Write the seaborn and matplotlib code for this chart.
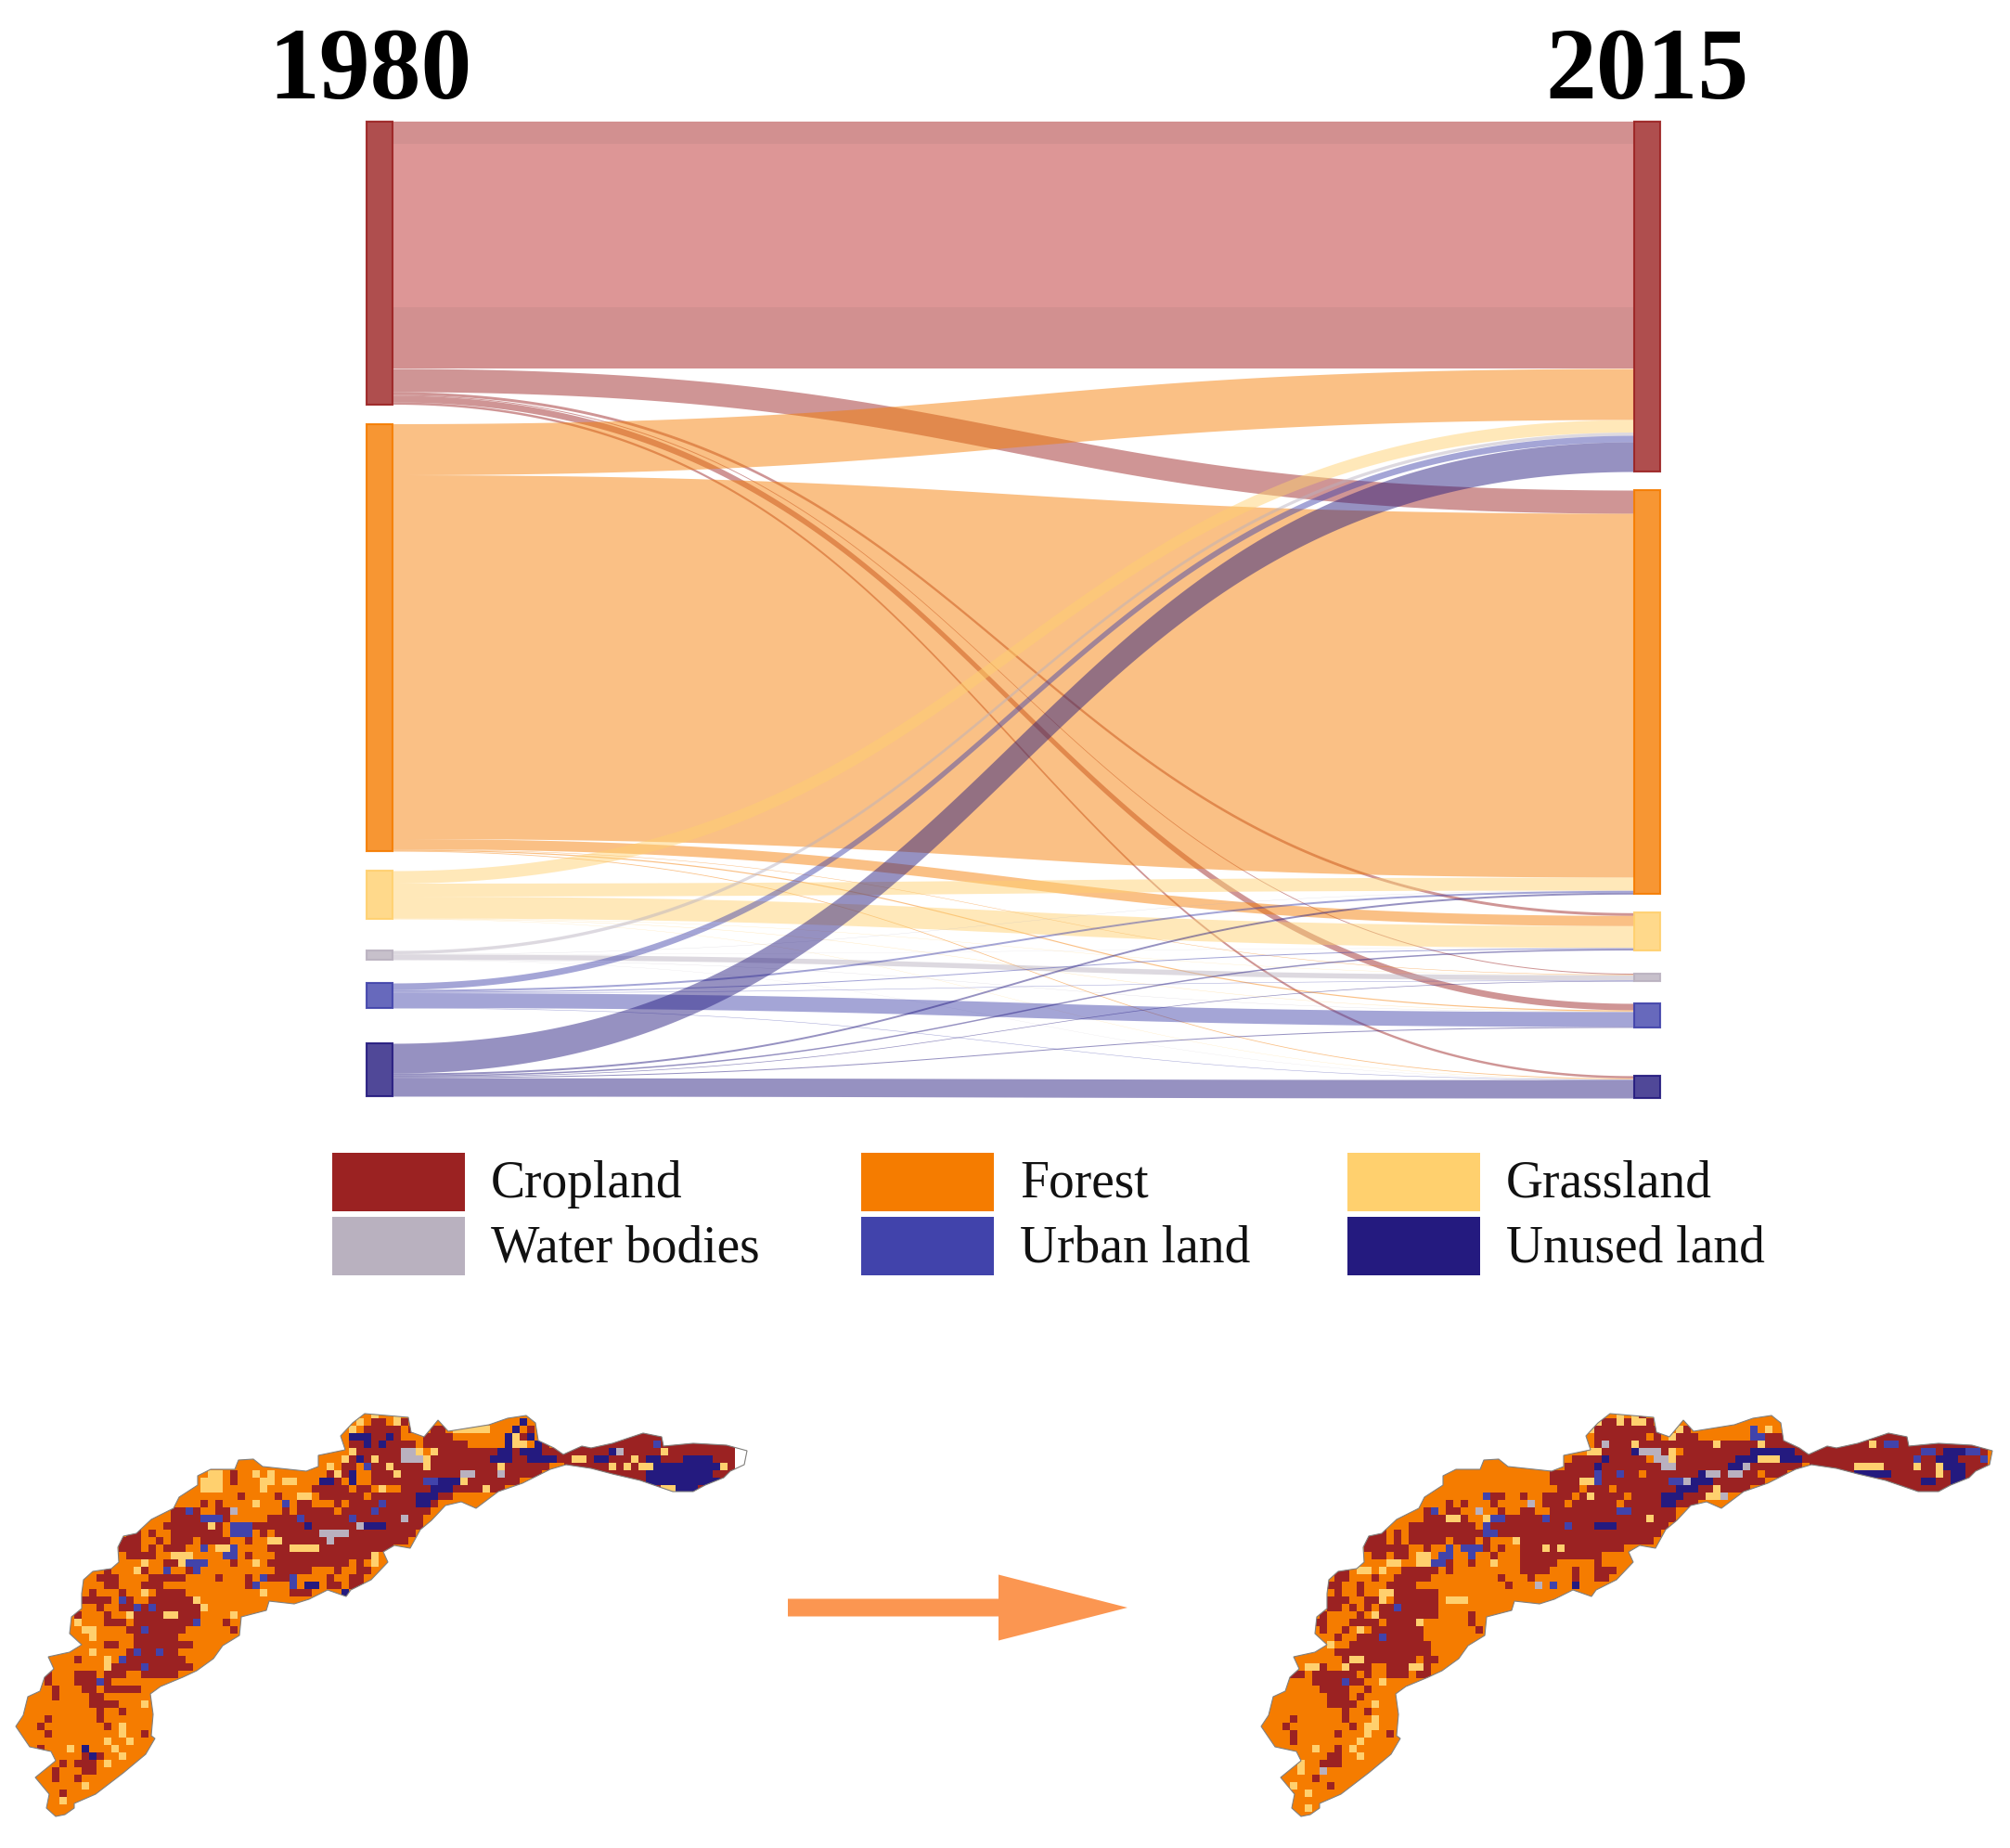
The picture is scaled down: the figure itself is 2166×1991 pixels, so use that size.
import numpy as np
import seaborn as sns
import matplotlib.pyplot as plt
from matplotlib.colors import ListedColormap, to_rgba
from matplotlib.patches import Rectangle, Polygon, FancyArrow

sns.set_theme(style="white")
plt.rcParams["font.family"] = ["Liberation Serif", "DejaVu Serif"]

W, H = 2166, 1991

classes = ["Cropland", "Forest", "Grassland", "Water bodies", "Urban land", "Unused land"]
class_colors = ["#9b2222", "#f57c00", "#ffd06e", "#b9b1bf", "#4143ab", "#241a7f"]

# transfer 1980 (rows) -> 2015 (columns)
flows = [
    [266, 25, 3, 1, 7, 2.5],
    [55, 392, 11, 0.5, 1.2, 0.8],
    [13.5, 14, 23.5, 0.3, 0.4, 0.3],
    [3.5, 0.3, 0.2, 5.5, 0.3, 0.2],
    [7, 2, 1, 0.5, 16, 0.5],
    [32, 2, 1.5, 0.7, 1, 19.8],
]
gaps_1980 = [21, 21, 34, 25, 38]
gaps_2015 = [20, 20, 25, 24, 52]

# land use rasters: one entry per row, "from-to" column run + class letter
# (forest is the background of the outline, later runs overwrite earlier ones)
map_1980 = [
    "50g 53g",
    "48g 50-51c 53g 54c 70n",
    "47g 49-53c 55c 58-59c 61-65g 69n 71c",
    "84-89c 47-49n 50-51c 52n 53c 57-60c 68n 69g 70c 71n",
    "77-98c 47-48c 49n 50c 51n 52-55c 57-62c 68n 69-70g 72n 73c 88u 99-102b",
    "75-98c 47g 48-53c 54-55w 56g 58g 59-61c 62-66c 67-68n 69c 70-72n 73-74c 82n 83w 84-88c 89g 99-102b",
    "75-98c 50-62c 46g 47-49c 48n 50g 54-56w 57g 62-65c 66-68n 69-70c 71-74n 77-78g 80-81n 85g 87-88n 92-95n 99-102b",
    "76-98c 50-62c 44g 46-47c 49u 52g 57g 62-66c 67g 68-73c 82g 84g 86-87g 88-96n 97g 99-102b",
    "80-98c 50-62c 28-29g 31c 34g 36g 44-46c 45g 47n 53g 62-63w 64-66c 67w 68-72c 87-95n 99-102b",
    "84-98c 50-62c 27-29g 31c 35-36g 38-39g 43-45c 43-44n 47n 57-58u 59-61n 62g 63-69c 87-96n",
    "87-96c 27-29g 35g 42-46c 48-49c 51g 54-57c 58-60n 61-64c 65g 66-67c 89-90g 91-93n",
    "32c 37c 40-41g 43-44c 45-48c 50-54c 55c 56-58n 59-60c",
    "27c 29c 34g 38u 40-41c 45c 47-51c 51u 52-55c 56-57n 58c",
    "23-26c 25u 29-30c 31w 38c 40-44c 46-50c 50u 51-57c",
    "23-26c 27-29u 30c 36-53c 40u 47u 54w 55-56c",
    "22-27c 28g 29c 31-33u 34-47c 41n 48w 49-51n 52-56c",
    "17-18c 20c 23-29c 31-33u 35c 37-42c 43-46w 47-55c",
    "16-18c 21c 23-25c 27-29c 30c 33c 36-37g 38-54c 44w",
    "16-18c 20c 22-24c 27u 29-30g 31u 36-38c 39-42g 43-51c 52c",
    "17-18c 19-20c 23-25g 30u 31u 33c 37-49c 50g",
    "19g 22-24c 24g 25-27u 31c 34g 36-46c 48c 50g",
    "14c 18g 19c 22u 25c 26u 37-41c 45c 48-49c",
    "13-15c 20-24c 29c 33c 35u 36-38c 39u 44c 47-48c",
    "14-15c 19-21c 33c 34u 39u 41-42n 44-45c 47-48c",
    "12c 16c 19g 21-24c 35g 39-41c 46n",
    "11-14c 16-17c 16u 20-25c 26g",
    "13c 16-17c 18u 19-26c 20u 27g",
    "10c 14c 17g 18-26c 22-23g 31g",
    "10g 14-16c 18-25c 26u 30c",
    "11-12g 17-19c 19u 20-24c 31c",
    "12g 18-23c",
    "14-15c 18-24c 25c",
    "12g 17-23c 18u 21u",
    "10c 14g 16-24c 16u",
    "14g 15-17c 18-24c 19u 25c",
    "6c 10-12c 14-16c 19-23c",
    "6c 10-12c 13u 14c",
    "7c 11-12c 14-18c",
    "7c 12-13c",
    "12-13c 14-15c 19g",
    "13c 16c",
    "6c 13c",
    "5c 14c 16g",
    "6c 16g 19c",
    "14g 17g",
    "5c 9g 11n 15g",
    "11c 12n 13c 16g",
    "8c 10-12c 14g",
    "7c 11-12c",
    "7c 10c",
    "11g",
    "8c",
    "8g",
    "",
    "",
    "",
]

map_2015 = [
    "50g 52g 53c",
    "47g 48-49c 50g 51c 52g 53g 54c",
    "46g 47-54c 55c 58g 59c 68u 70g",
    "84-89c 47-53c 55c 57g 58-60c 68-69u 70c 71-72c",
    "77-98c 47c 48w 49-51c 52g 53-62c 63g 64-68c 69g 70-74c 84g 86-87u",
    "75-99c 46-47g 48-52c 52n 53-55w 56c 57g 59-62c 63-67c 68-71n 72-73n 74-75c 91-92u 94-96n 97-98u",
    "75-99c 56-74c 44-47c 48n 49-53c 55-56w 57g 66-68n 69-71g 72-74n 90u 93-95n 99u",
    "76-99c 56-74c 43-46c 47n 48-55c 56-57w 65-66n 67w 82g 83-85g 90g 93g 94-96n",
    "80-99c 54-72c 41-46c 47u 48-49c 50u 51-52c 61n 62-63w 65-66w 69f 82-86n 93g 95-96n",
    "84-98c 50-69c 41-44c 45-46g 47u 48-49c 57-58u 59w 60-62n 91-92n 95-96n",
    "87-96c 42-44c 46-48c 50-67c 58-60n 63g",
    "32u 33-34c 37c 40-43c 45c 46g 47-50c 52-55c 56-58n 59-61c 62-63g 64w",
    "27c 29c 33c 38w 40-42c 44-49c 51-55c 56-57n 58-60c",
    "24c 25u 27-28c 31w 34c 37-38c 41-49c 50-51u 52-57c",
    "24-26c 27-28g 29c 32g 33-34u 35-57c 40u 54g",
    "22-30c 32u 33-46c 43u 47-49n 50-56c",
    "16-18c 20c 22-31c 32-33u 34-55c",
    "16-18c 20c 22-26c 28-30c 32c 36g 37-54c",
    "16-18c 19-21c 24c 27u 29-31u 32c 34c 37-50c 40g 42g",
    "17-18c 20-21c 23-24g 26-27u 30u 33c 37-47c",
    "19-20g 23-24g 25-26u 27c 30c 33g 37-41c 47c",
    "12-13c 15-16g 18g 21-25c 27c 37-40c 44c 47-49c",
    "12-13c 17c 20-24c 34c 38c 44c 47-48c",
    "11-12c 15c 19-22c 35c 39w 41u 44n",
    "12c 15c 18-19g 20-25c",
    "11-13c 16-17c 18g 20-25c 27-29g",
    "11-12c 14c 16c 18-25c 20u",
    "10c 15c 17g 18-25c 30c",
    "9-10c 14-17c 19-23c 23g 30c",
    "10c 13c 15g 17-18c 19-23c 31c",
    "12c 15-17c 18u 19-23c",
    "11g 14-24c",
    "12-14c 15-17c 18-24c",
    "13c 14-15g 16-17c 18-22c 24-25c",
    "8-9g 10c 13g 14-16c 19-21c 22-23g 24c",
    "6-7c 9-12c 13-14c 16c 19-21c 23-24c",
    "9-12c 13u 14-15c 18g",
    "10-12c 13c 16c",
    "11-13c 15c",
    "11-14c 17g",
    "13c 16c",
    "6c 13c 17g",
    "5c 14c 16-17g",
    "6c 12c 16g 19c",
    "6c 15g",
    "9g 12c 14g",
    "11-12c 15g",
    "7g 10-12c",
    "7g 10w",
    "9c",
    "11c 6g",
    "8g",
    "",
    "8g",
    "",
]

# basin outline, pixels from the top left of a map panel
outline_x = [60, 50, 53, 38, 60, 55, 32, 17, 25, 30, 43, 48, 58, 52, 75, 88, 75, 77, 88, 88,
             90, 100, 120, 128, 127, 133, 147, 163, 187, 193, 213, 213, 227, 253, 257, 273, 283, 330, 343, 343,
             372, 367, 380, 393, 440, 443, 457, 472, 483, 527, 547, 567, 577, 580, 597, 607, 627, 637, 660, 693,
             713, 715, 747, 783, 805, 802, 787, 780, 760, 747, 725, 690, 660, 637, 610, 593, 563, 537, 513, 497,
             480, 465, 453, 442, 425, 413, 418, 400, 378, 373, 353, 333, 317, 290, 287, 260, 258, 240, 230, 212,
             197, 173, 162, 165, 163, 167, 157, 133, 103, 80, 80, 70]
outline_y = [437, 428, 413, 395, 377, 367, 362, 340, 328, 308, 302, 287, 278, 265, 260, 252, 240, 222, 213, 197,
             182, 173, 170, 163, 147, 135, 132, 117, 105, 93, 80, 70, 63, 63, 53, 52, 60, 65, 60, 48,
             42, 27, 13, 3, 7, 23, 28, 10, 22, 15, 8, 5, 13, 32, 40, 47, 38, 40, 35, 24,
             28, 38, 35, 37, 43, 58, 65, 72, 80, 87, 87, 75, 68, 62, 58, 63, 78, 87, 105, 98,
             102, 118, 128, 148, 145, 152, 163, 182, 193, 200, 193, 203, 208, 205, 215, 222, 242, 253, 267, 280,
             287, 297, 305, 327, 350, 353, 370, 390, 413, 423, 428, 435]

fig = plt.figure(figsize=(W / 100, H / 100), dpi=100, facecolor="white")
ax = fig.add_axes([0, 0, 1, 1])
ax.set_xlim(0, W)
ax.set_ylim(H, 0)
ax.axis("off")

x_left, x_right, node_w = 395, 1761, 28
top = 131
flows = np.array(flows, dtype=float)
n = len(classes)


def node_tops(sizes, gaps):
    tops = [top]
    for s, g in zip(sizes[:-1], gaps):
        tops.append(tops[-1] + s + g)
    return tops


sizes_l = flows.sum(axis=1)
sizes_r = flows.sum(axis=0)
tops_l = node_tops(sizes_l, gaps_1980)
tops_r = node_tops(sizes_r, gaps_2015)

t = np.linspace(0, 1, 300)
x0, x1 = x_left + node_w, x_right
xm = (x0 + x1) / 2
xs = (1 - t) ** 3 * x0 + 3 * (1 - t) ** 2 * t * xm + 3 * (1 - t) * t ** 2 * xm + t ** 3 * x1
ease = 3 * (1 - t) * t ** 2 + t ** 3

cursor_r = list(tops_r)
cursor_l = list(tops_l)
for i in range(n):
    for j in range(n):
        v = flows[i, j]
        ya, yb = cursor_l[i], cursor_r[j]
        ys = ya + (yb - ya) * ease
        ax.fill_between(xs, ys, ys + v, color=class_colors[i], alpha=0.48, lw=0, zorder=2)
        cursor_l[i] += v
        cursor_r[j] += v

# the big cropland band is a bit rosier, and lighter in its middle part
ax.fill_between([x0, x1], 131, 397, color="#e08080", alpha=0.2, lw=0, zorder=2.4)
ax.fill_between([x0, x1], 155, 331, color="#f0a0a0", alpha=0.4, lw=0, zorder=2.5)

for i in range(n):
    for x, y, h in [(x_left, tops_l[i], sizes_l[i]), (x_right, tops_r[i], sizes_r[i])]:
        ax.add_patch(Rectangle((x, y), node_w, h, fc=to_rgba(class_colors[i], 0.8),
                               ec=to_rgba(class_colors[i], 0.9), lw=1.5, zorder=3))

ax.text(399, 106, "1980", fontsize=79, fontweight="bold", ha="center", va="baseline", color="black")
ax.text(1775, 106, "2015", fontsize=79, fontweight="bold", ha="center", va="baseline", color="black")

# legend
legend_x = [358, 928, 1452]
legend_y = [1242, 1311]
for k, name in enumerate(classes):
    lx, ly = legend_x[k % 3], legend_y[k // 3]
    ax.add_patch(Rectangle((lx, ly), 143, 63, fc=class_colors[k], ec="none", zorder=3))
    ax.text(lx + 171, ly + 34, name, fontsize=40, ha="left", va="center", color="#111111")

ax.add_patch(FancyArrow(849, 1732, 366, 0, width=19, head_width=71, head_length=139,
                        length_includes_head=True, fc="#fb9651", ec="none", zorder=3))


def draw_map(x_org, rows, cell=8, y_org=1520):
    letters = "cfgwunb"
    nrows, ncols = len(rows), 104
    mx = fig.add_axes([x_org / W, 1 - (y_org + nrows * cell) / H, ncols * cell / W, nrows * cell / H])
    grid = np.full((nrows, ncols), -1.0)
    for r, row in enumerate(rows):
        for tok in row.split():
            a, _, b = tok[:-1].partition("-")
            grid[r, int(a):int(b or a) + 1] = letters.index(tok[-1])
    cmap = ListedColormap(class_colors + ["white"])
    sns.heatmap(grid, mask=grid < 0, cmap=cmap, vmin=-0.5, vmax=6.5, cbar=False,
                xticklabels=False, yticklabels=False, ax=mx)
    pts = np.column_stack([np.array(outline_x) / cell, np.array(outline_y) / cell])
    base = Polygon(pts, closed=True, fc=class_colors[1], ec="none", zorder=0.5)
    mx.add_patch(base)
    mx.collections[0].set_clip_path(base)
    mx.add_patch(Polygon(pts, closed=True, fc="none", ec="#808080", lw=0.8, zorder=3))
    mx.axis("off")


draw_map(0, map_1980)
draw_map(1342, map_2015)

fig.savefig("out.png", dpi=100, facecolor="white")
